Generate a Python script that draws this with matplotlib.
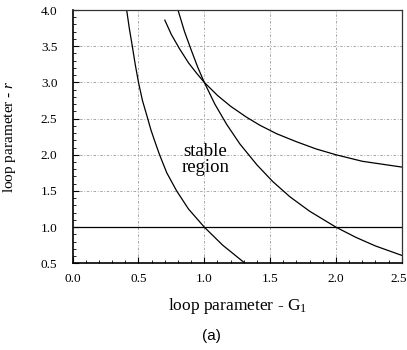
import matplotlib
matplotlib.use("Agg")
import matplotlib.pyplot as plt
from matplotlib.ticker import MultipleLocator
from matplotlib.transforms import ScaledTranslation

# data
g_a = [0.41, 0.43, 0.453, 0.475, 0.50, 0.53, 0.57, 0.595, 0.625, 0.66, 0.715, 0.79, 0.88, 1.00, 1.14, 1.31]
r_a = [4.00, 3.75, 3.50, 3.25, 3.00, 2.75, 2.50, 2.34, 2.18, 2.00, 1.75, 1.50, 1.25, 1.00, 0.75, 0.50]

g_b = [0.80, 0.85, 0.90, 0.95, 1.00, 1.08, 1.17, 1.27, 1.40, 1.52, 1.65, 1.80, 2.00, 2.15, 2.30, 2.50]
r_b = [4.00, 3.70, 3.45, 3.21, 3.00, 2.70, 2.42, 2.15, 1.86, 1.63, 1.42, 1.22, 1.00, 0.86, 0.74, 0.61]

g_c = [0.70, 0.75, 0.81, 0.88, 0.94, 1.00, 1.10, 1.20, 1.32, 1.42, 1.55, 1.70, 1.85, 2.00, 2.20, 2.35, 2.50]
r_c = [3.86, 3.66, 3.47, 3.27, 3.13, 3.00, 2.82, 2.67, 2.52, 2.41, 2.29, 2.18, 2.08, 2.00, 1.91, 1.87, 1.83]

g_d = [0.0, 2.5]
r_d = [1.0, 1.0]

x_ticks = [0.0, 0.5, 1.0, 1.5, 2.0, 2.5]
y_ticks = [0.5, 1.0, 1.5, 2.0, 2.5, 3.0, 3.5, 4.0]

serif = "Liberation Serif"
plt.rcParams["mathtext.fontset"] = "custom"
plt.rcParams["mathtext.rm"] = serif
plt.rcParams["mathtext.it"] = serif + ":italic"

fig = plt.figure(figsize=(4.07, 3.5), dpi=100)
ax = fig.add_axes([0.1786, 0.2477, 0.8084, 0.7237])

grid_style = dict(color="#9a9a9a", lw=0.6, ls=(0, (3, 2, 1, 2)), zorder=0)
for v in x_ticks[1:-1]:
    ax.axvline(v, **grid_style)
for v in y_ticks[1:-1]:
    ax.axhline(v, **grid_style)

for g, r in [(g_a, r_a), (g_b, r_b), (g_c, r_c), (g_d, r_d)]:
    ax.plot(g, r, color="black", lw=0.9)

ax.set_xlim(0, 2.5)
ax.set_ylim(0.5, 4.0)
ax.set_xticks(x_ticks)
ax.set_yticks(y_ticks)
ax.set_xticklabels([f"{v:.1f}" for v in x_ticks], fontfamily=serif, fontsize=9.5)
ax.set_yticklabels([f"{v:.1f}" for v in y_ticks], fontfamily=serif, fontsize=9.5)
ax.xaxis.set_minor_locator(MultipleLocator(0.1))
ax.yaxis.set_minor_locator(MultipleLocator(0.1))
ax.tick_params(which="both", direction="in", top=False, right=False)
ax.tick_params(axis="x", which="major", length=4, width=0.8, pad=7)
ax.tick_params(axis="y", which="major", length=4, width=0.8, pad=11)
ax.tick_params(which="minor", length=2, width=0.6)

last = ax.get_xticklabels()[-1]
last.set_transform(last.get_transform() + ScaledTranslation(-3 / 100, 0, fig.dpi_scale_trans))

for s in ["left", "bottom"]:
    ax.spines[s].set_linewidth(1.2)
for s in ["top", "right"]:
    ax.spines[s].set_linewidth(0.9)
    ax.spines[s].set_color("#333333")

ax.text(1.01, 1.93, "stable\nregion", ha="center", va="center",
        fontfamily=serif, fontsize=13.5, linespacing=0.9)

ax.set_xlabel("loop parameter - G$_1$", fontfamily=serif, fontsize=12.5, labelpad=8)
ax.set_ylabel("loop parameter - $r$", fontfamily=serif, fontsize=11)
ax.yaxis.set_label_coords(-0.166, 0.5)

fig.text(211 / 407, 1 - 336 / 350, "(a)", ha="center", va="center",
         fontfamily="Liberation Sans", fontsize=11)

fig.savefig("out.png", dpi=100)
